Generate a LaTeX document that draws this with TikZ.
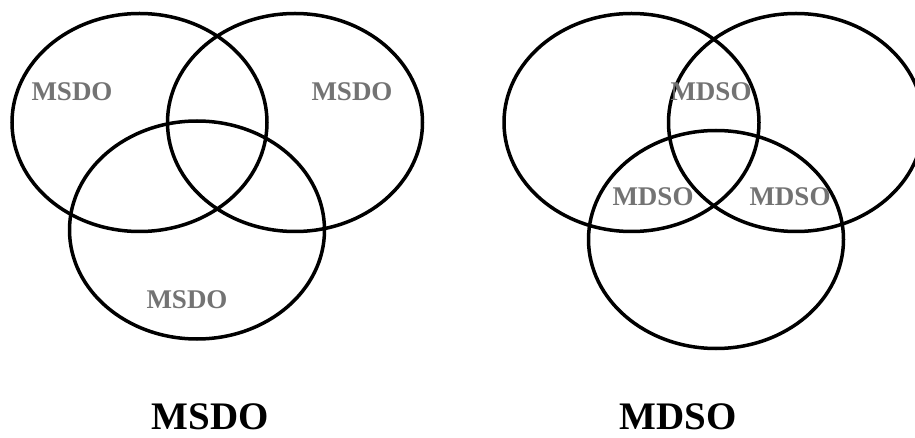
\documentclass[tikz,border=0pt]{standalone}
\usepackage{fontspec}
\setmainfont{Liberation Serif}
\usepackage{tikz}
\usetikzlibrary{shapes.geometric, positioning}

\tikzset{
    set/.style={draw, ellipse, line width=3.5pt, minimum width=255pt, minimum height=218pt, inner sep=0pt},
    setlabel/.style={inner sep=0pt, text=black!55, font=\bfseries\fontsize{27}{27}\selectfont},
    title/.style={inner sep=0pt, font=\bfseries\fontsize{39}{39}\selectfont}
}

\begin{document}
\begin{tikzpicture}[x=1pt, y=-1pt]

    \useasboundingbox (0,0) rectangle (915,438);
    \clip (0,0) rectangle (915,438);

    % ================= MSDO (left) =================
    \node[set] (A) at (139.5, 122.5) {};
    \node[set] (B) at (295, 122.5) {};
    \node[set] (C) at (197, 230) {};

    \node[setlabel] (A_lbl) at (72, 92) {MSDO};
    \node[setlabel] (B_lbl) at (352, 92) {MSDO};
    \node[setlabel] (C_lbl) at (187, 300) {MSDO};

    % ================= MDSO (right) =================
    \node[set] (D) at (631.5, 122.5) {};
    \node[set] (E) at (796, 122.5) {};
    \node[set] (F) at (716, 239.5) {};

    \node[setlabel] (DE_lbl) at (711, 92) {MDSO};
    \node[setlabel] (DF_lbl) at (653, 197) {MDSO};
    \node[setlabel] (EF_lbl) at (790, 197) {MDSO};

    % ================= titles =================
    \node[title] (left_title) at (210, 417) {MSDO};
    \node[title] (right_title) at (678, 417) {MDSO};

\end{tikzpicture}
\end{document}
